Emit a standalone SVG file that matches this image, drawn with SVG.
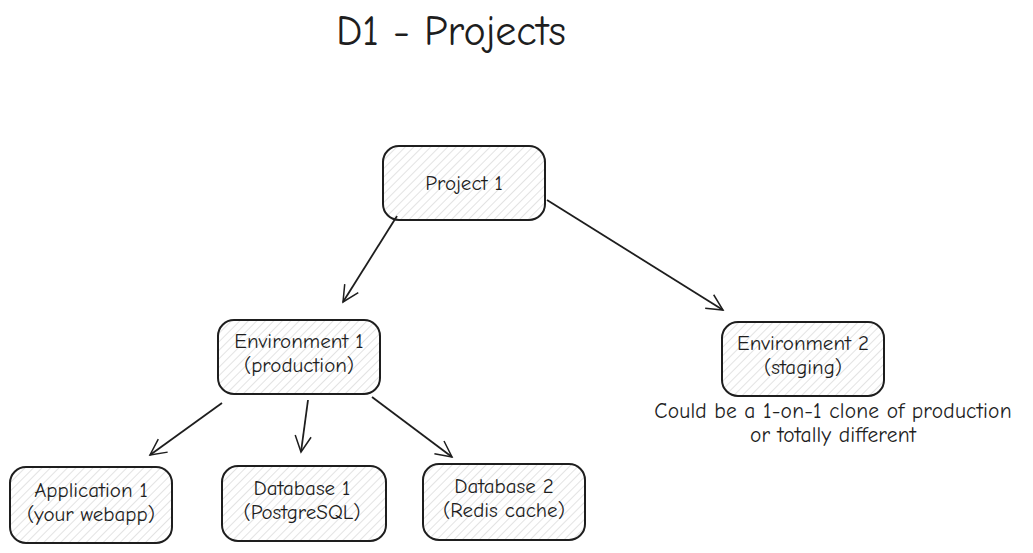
<svg xmlns="http://www.w3.org/2000/svg" width="1033" height="553" viewBox="0 0 1033 553">
<defs>
<pattern id="hatch" patternUnits="userSpaceOnUse" width="6" height="6" patternTransform="rotate(45)">
<line x1="0" y1="0" x2="0" y2="6" stroke="#c8c8c8" stroke-width="1"/>
</pattern>
<marker id="arr" viewBox="0 0 20 20" refX="18" refY="10" markerWidth="20" markerHeight="20" markerUnits="userSpaceOnUse" orient="auto">
<path d="M2,2 L18,10 L2,18" fill="none" stroke="#1e1e1e" stroke-width="1.5"/>
</marker>
</defs>
<style>
.box{fill:url(#hatch);stroke:#1e1e1e;stroke-width:2}
.lbl{font-family:"Comic Neue","Liberation Sans",sans-serif;font-size:21px;fill:#1e1e1e;text-anchor:middle}
.cap{font-size:21.5px;letter-spacing:0.2px}
.title{font-family:"Comic Neue","Liberation Sans",sans-serif;font-size:42px;fill:#1e1e1e;text-anchor:middle}
.con{stroke:#1e1e1e;stroke-width:1.8;fill:none;marker-end:url(#arr)}
</style>
<rect width="1033" height="553" fill="#ffffff"/>
<text class="title" x="451" y="45">D1 - Projects</text>
<g id="connectors">
<line class="con" x1="397" y1="216" x2="343" y2="302"/>
<line class="con" x1="547" y1="200" x2="723" y2="310"/>
<line class="con" x1="222" y1="403" x2="150" y2="455"/>
<line class="con" x1="308" y1="400" x2="301" y2="452"/>
<line class="con" x1="372" y1="397" x2="452" y2="457"/>
</g>
<g id="project1">
<rect class="box" x="383" y="146" width="162" height="74" rx="16"/>
<text class="lbl" x="464" y="190">Project 1</text>
</g>
<g id="env1">
<rect class="box" x="218" y="320" width="162" height="74" rx="16"/>
<text class="lbl" x="299" y="348">Environment 1</text>
<text class="lbl" x="299" y="372">(production)</text>
</g>
<g id="env2">
<rect class="box" x="722" y="322" width="162" height="74" rx="16"/>
<text class="lbl" x="803" y="350">Environment 2</text>
<text class="lbl" x="803" y="374">(staging)</text>
<text class="lbl cap" x="833" y="418">Could be a 1-on-1 clone of production</text>
<text class="lbl cap" x="833" y="442">or totally different</text>
</g>
<g id="app1">
<rect class="box" x="10" y="467" width="162" height="76" rx="16"/>
<text class="lbl" x="91" y="497">Application 1</text>
<text class="lbl" x="91" y="521">(your webapp)</text>
</g>
<g id="db1">
<rect class="box" x="222" y="466" width="164" height="75" rx="16"/>
<text class="lbl" x="302" y="495">Database 1</text>
<text class="lbl" x="302" y="519">(PostgreSQL)</text>
</g>
<g id="db2">
<rect class="box" x="423" y="464" width="162" height="76" rx="16"/>
<text class="lbl" x="504" y="493">Database 2</text>
<text class="lbl" x="504" y="517">(Redis cache)</text>
</g>
</svg>
